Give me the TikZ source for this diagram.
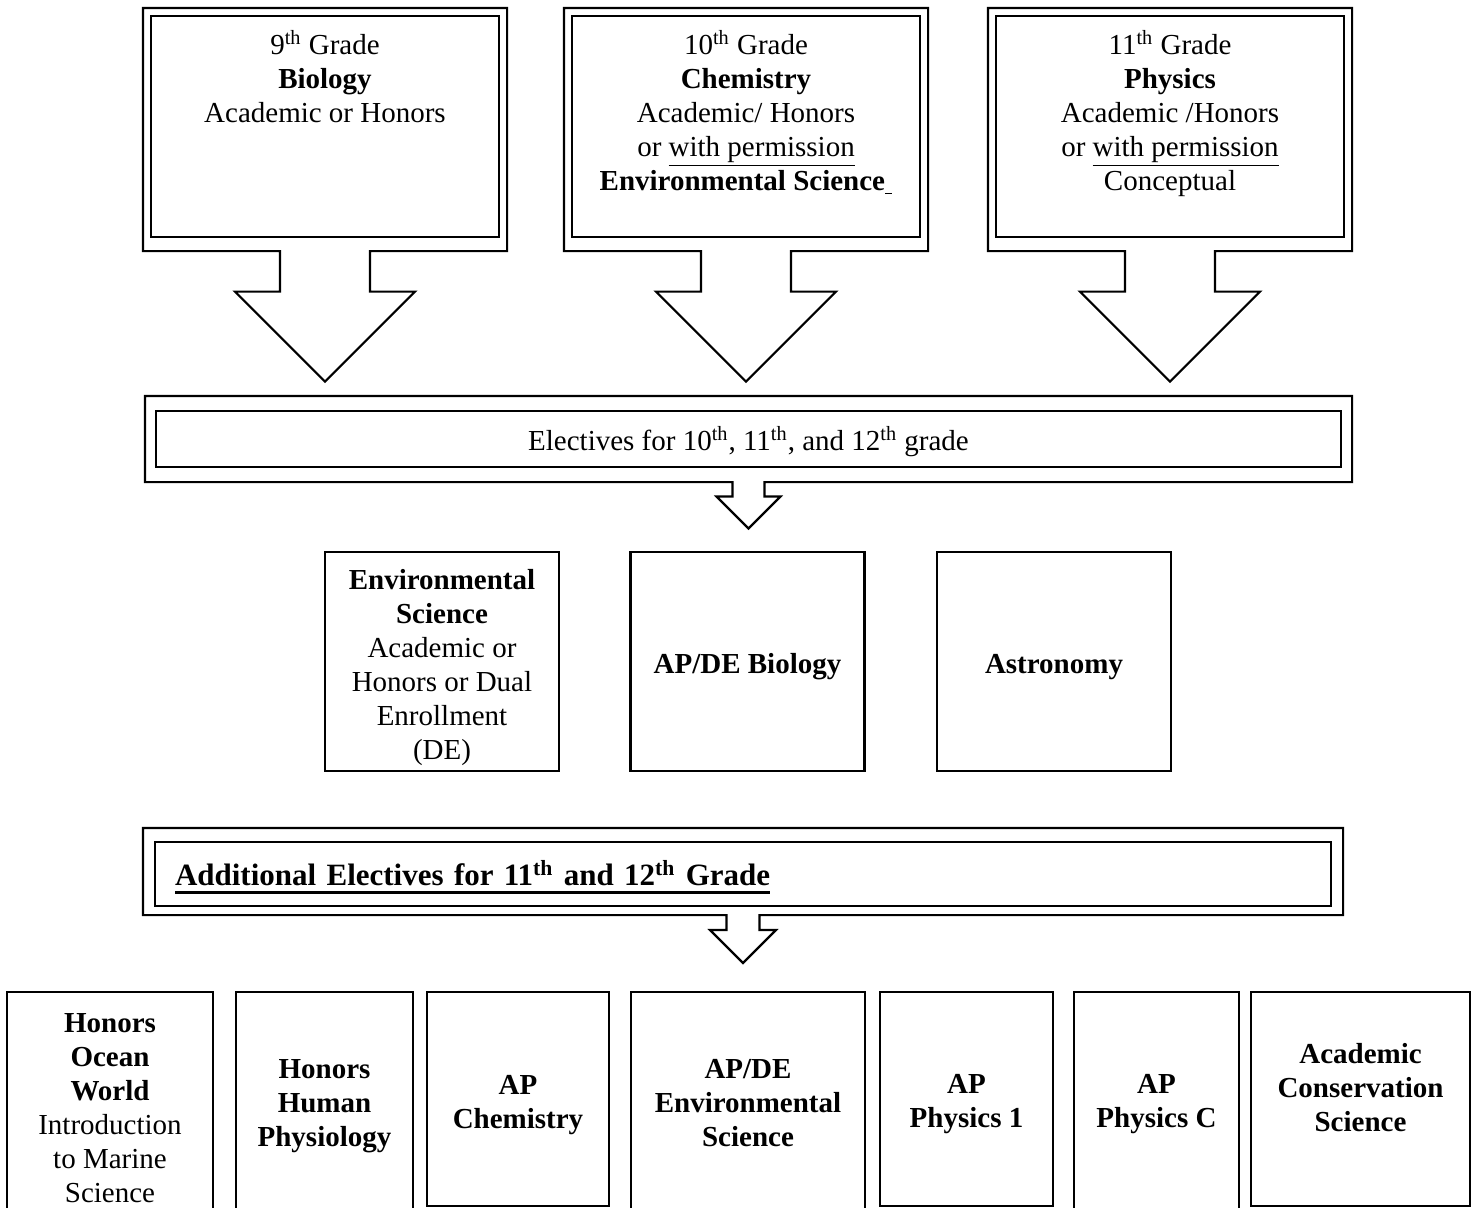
\documentclass[tikz,border=0pt]{standalone}
\usepackage{fontspec}
\setmainfont{Liberation Serif}
\usetikzlibrary{positioning}

%subrayado grueso para el titulo
\newcommand{\ulbold}[1]{\setbox0\hbox{#1}\rlap{\rule[-4pt]{\wd0}{1.5pt}}\box0}
%altura de la primera linea
\newcommand{\alto}[1]{\rule{0pt}{#1pt}}

%contorno exterior con flecha hacia abajo: nodo, lado, arriba, abajo, medio ancho
\newcommand{\marco}[5]{%
\draw[borde] ([shift={(-#2,-#3)}]#1.north west) -- ([shift={(-#2,#4)}]#1.south west)
  -- ([shift={(-#5,#4)}]#1.south) -- ++(0,{0.9*#5}) -- ++(-#5,0)
  -- ([shift={(0,{#4+2.9*#5})}]#1.south) -- ([shift={(2*#5,{#4+0.9*#5})}]#1.south)
  -- ++(-#5,0) -- ++(0,{-0.9*#5}) -- ([shift={(#2,#4)}]#1.south east)
  -- ([shift={(#2,-#3)}]#1.north east) -- cycle;}

\tikzset{
  caja/.style={draw, line width=1.1pt, inner sep=0pt, align=center,
    font=\fontsize{14.5}{17}\selectfont,
    execute at begin node=\rule{0pt}{17pt}, execute at end node=\strut},
  texto/.style={inner sep=0pt, align=center, font=\fontsize{14.5}{17}\selectfont,
    execute at begin node=\strut},
  borde/.style={line width=1.1pt}
}

\begin{document}
\begin{tikzpicture}[x=0.5pt,y=-0.5pt]
\useasboundingbox (0,0) rectangle (1478,1207);

%cajas de cada grado
\foreach \n/\x in {bio/325, chem/746, phys/1170}
	\node[caja, minimum width=174pt, minimum height=110.5pt] (\n) at (\x,126.5) {};
\node[texto, below=7.35pt of bio.north] (biotxt) {9\textsuperscript{th} Grade\\ \textbf{Biology}\\ Academic or Honors};
\node[texto, below=7.35pt of chem.north] (chemtxt) {10\textsuperscript{th} Grade\\ \textbf{Chemistry}\\ Academic/ Honors\\ or \underline{with permission}\\ \textbf{Environmental Science}\underline{\ }};
\node[texto, below=7.35pt of phys.north] (phystxt) {11\textsuperscript{th} Grade\\ \textbf{Physics}\\ Academic /Honors\\ or \underline{with permission}\\ Conceptual};
\foreach \n in {bio, chem, phys}
	\marco{\n}{7}{7}{13}{45};

%electivas de 10, 11 y 12
\node[caja, minimum width=592.5pt, minimum height=28pt] (elec) at (748.5,439) {Electives for 10\textsuperscript{th}, 11\textsuperscript{th}, and 12\textsuperscript{th} grade};
\marco{elec}{10}{14}{14}{16};

\node[caja, minimum width=117pt, minimum height=109.5pt] (envsci) at (442,661.5) {\alto{18}\textbf{Environmental}\\ \textbf{Science}\\ Academic or\\ Honors or Dual\\ Enrollment\\ (DE)};
\node[caja, minimum width=117pt, minimum height=109.5pt] (apbio) at (747.5,661.5) {\textbf{AP/DE Biology}};
\node[caja, minimum width=117pt, minimum height=109.5pt] (astro) at (1054,661.5) {\textbf{Astronomy}};

%electivas adicionales de 11 y 12
\node[caja, text width=568pt, inner xsep=10pt, align=left, minimum height=32pt,
	font=\fontsize{15.5}{18}\selectfont, execute at begin node=\strut] (add) at (743,874)
	{\ulbold{\textbf{Additional Electives for 11\textsuperscript{th} and 12\textsuperscript{th} Grade}}};
\marco{add}{11}{13}{8}{16.5};

\node[caja, minimum width=103pt, minimum height=111pt] (ocean) at (110,1103) {\alto{20}\textbf{Honors}\\ \textbf{Ocean}\\ \textbf{World}\\ Introduction\\ to Marine\\ Science};
\node[caja, minimum width=88.5pt, minimum height=111pt] (humphys) at (324.5,1103) {\alto{15}\textbf{Honors}\\ \textbf{Human}\\ \textbf{Physiology}};
\node[caja, minimum width=91pt, minimum height=107pt] (apchem) at (518,1099) {\alto{18}\textbf{AP}\\ \textbf{Chemistry}};
\node[caja, minimum width=117pt, minimum height=111pt] (apenv) at (748,1103) {\alto{15}\textbf{AP/DE}\\ \textbf{Environmental}\\ \textbf{Science}};
\node[caja, minimum width=86.5pt, minimum height=107pt] (phys1) at (966.5,1099) {\alto{17}\textbf{AP}\\ \textbf{Physics 1}};
\node[caja, minimum width=82.5pt, minimum height=111pt] (physc) at (1156.5,1103) {\alto{13}\textbf{AP}\\ \textbf{Physics C}};
\node[caja, minimum width=109.5pt, minimum height=107pt] (cons) at (1360.5,1099) {};
\node[texto] (constxt) at (1360.5,1093) {\textbf{Academic}\\ \textbf{Conservation}\\ \textbf{Science}};
\end{tikzpicture}
\end{document}
